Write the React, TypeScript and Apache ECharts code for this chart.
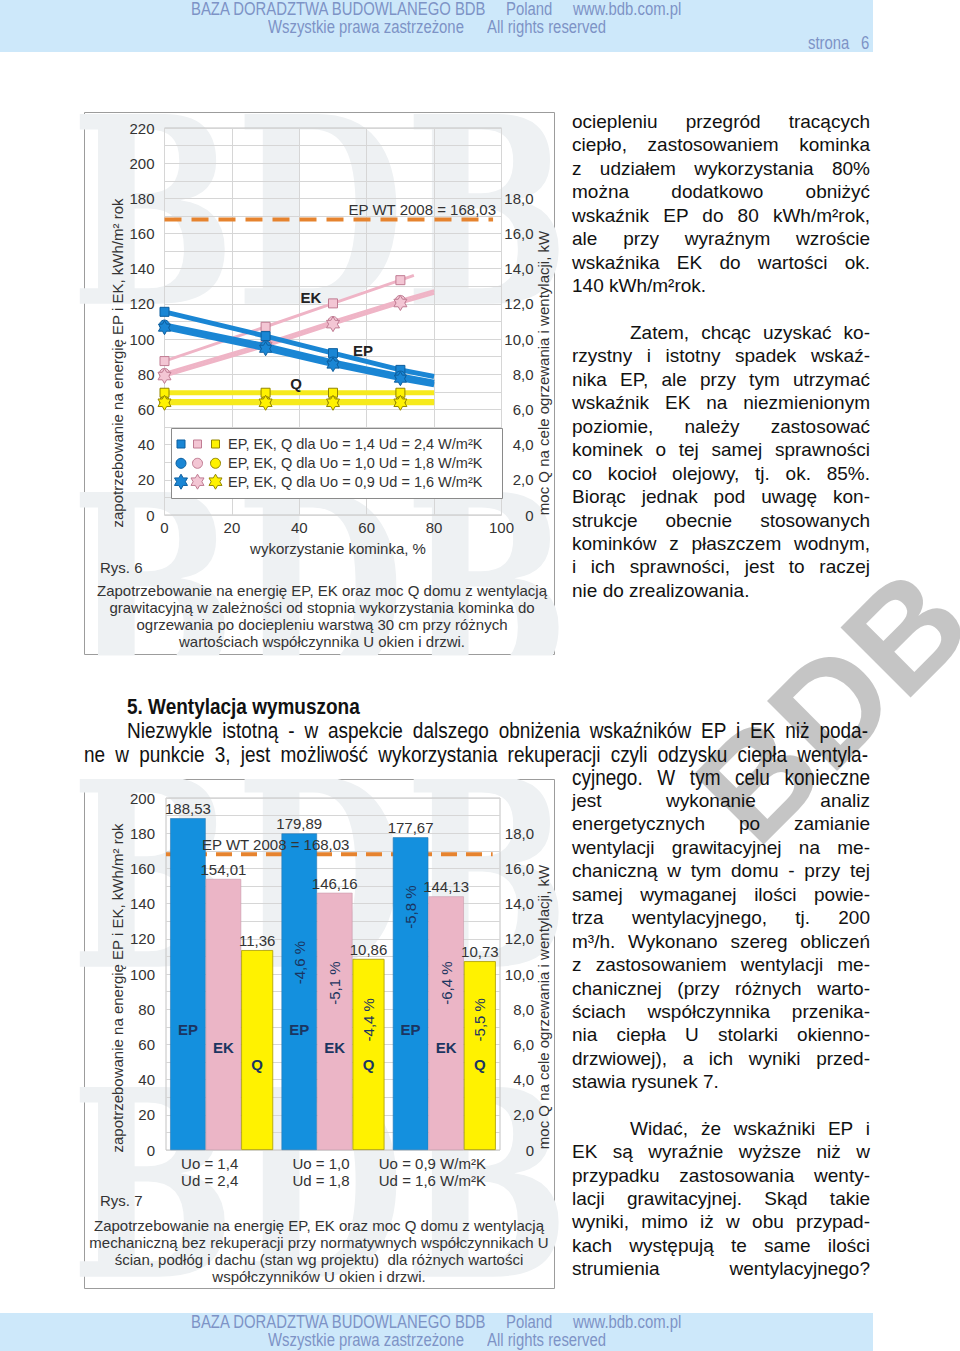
import React, { useEffect, useRef } from "react";
import * as echarts from "echarts";

const FONT = '"Liberation Sans", Arial, Helvetica, sans-serif';

/* ---------------- Rys. 6 data ---------------- */
const rys6XTicks = [0, 20, 40, 60, 80, 100];
const rys6LeftTicks = [0, 20, 40, 60, 80, 100, 120, 140, 160, 180, 200, 220];
const rightTicksKW = ["0", "2,0", "4,0", "6,0", "8,0", "10,0", "12,0", "14,0", "16,0", "18,0"];
const fireplaceUse = [0, 30, 50, 70];
const epU14 = [115.5, 101.7, 92.0, 82.5];
const epU10 = [108.0, 96.2, 87.0, 79.0];
const epU09 = [106.5, 94.5, 85.5, 77.5];
const ekU14 = [87.5, 107.0, 120.3, 133.5];
const ekU10 = [80.5, 97.5, 110.0, 122.0];
const ekU09 = [79.0, 96.0, 108.5, 120.5];
const qU14 = [6.95, 6.95, 6.95, 6.95];
const qU10 = [6.45, 6.45, 6.45, 6.45];
const qU09 = [6.38, 6.38, 6.38, 6.38];
const epTrendEndUse = [80, 80, 80];
const ekTrendEndUse = [74, 80, 80];
const qTrendEndUse = [80, 80, 80];
const epTrendEnd = [78.7, 75.5, 74.0];
const ekTrendEnd = [136.2, 127.5, 126.0];
const qTrendEnd = [6.95, 6.45, 6.38];
const epWT2008 = 168.03;
const rys6WTExtent = [0, 97.5];
const rys6Legend = [
  "EP, EK, Q dla Uo = 1,4 Ud = 2,4 W/m²K",
  "EP, EK, Q dla Uo = 1,0 Ud = 1,8 W/m²K",
  "EP, EK, Q dla Uo = 0,9 Ud = 1,6 W/m²K",
];
const rys6Caption = [
  "Zapotrzebowanie na energię EP, EK oraz moc Q domu z wentylacją",
  "grawitacyjną w zależności od stopnia wykorzystania kominka do",
  "ogrzewania po dociepleniu warstwą 30 cm przy różnych",
  "wartościach współczynnika U okien i drzwi.",
];

/* ---------------- Rys. 7 data ---------------- */
const rys7Categories = ["Uo = 1,4\nUd = 2,4", "Uo = 1,0\nUd = 1,8", "Uo = 0,9 W/m²K\nUd = 1,6 W/m²K"];
const rys7LeftTicks = [0, 20, 40, 60, 80, 100, 120, 140, 160, 180, 200];
const epMech = [188.53, 179.89, 177.67];
const ekMech = [154.01, 146.16, 144.13];
const qMech = [11.36, 10.86, 10.73];
const epMechChange = ["", "-4,6 %", "-5,8 %"];
const ekMechChange = ["", "-5,1 %", "-6,4 %"];
const qMechChange = ["", "-4,4 %", "-5,5 %"];
const rys7WTExtent = [0, 0.978];
const rys7Caption = [
  "Zapotrzebowanie na energię EP, EK oraz moc Q domu z wentylacją",
  "mechaniczną bez rekuperacji przy normatywnych współczynnikach U",
  "ścian, podłóg i dachu (stan wg projektu)  dla różnych wartości",
  "współczynników U okien i drzwi.",
];

/* ---------------- page text ---------------- */
const para1 = [
  "ociepleniu przegród tracących",
  "ciepło, zastosowaniem kominka",
  "z udziałem wykorzystania 80%",
  "można dodatkowo obniżyć",
  "wskaźnik EP do 80 kWh/m²rok,",
  "ale przy wyraźnym wzroście",
  "wskaźnika EK do wartości ok.",
  "140 kWh/m²rok.",
];
const para2 = [
  "Zatem, chcąc uzyskać ko-",
  "rzystny i istotny spadek wskaź-",
  "nika EP, ale przy tym utrzymać",
  "wskaźnik EK na niezmienionym",
  "poziomie, należy zastosować",
  "kominek o tej samej sprawności",
  "co kocioł olejowy, tj. ok. 85%.",
  "Biorąc jednak pod uwagę kon-",
  "strukcje obecnie stosowanych",
  "kominków z płaszczem wodnym,",
  "i ich sprawności, jest to raczej",
  "nie do zrealizowania.",
];
const para3 = [
  "jest wykonanie analiz",
  "energetycznych po zamianie",
  "wentylacji grawitacyjnej na me-",
  "chaniczną w tym domu - przy tej",
  "samej wymaganej ilości powie-",
  "trza wentylacyjnego, tj. 200",
  "m³/h. Wykonano szereg obliczeń",
  "z zastosowaniem wentylacji me-",
  "chanicznej (przy różnych warto-",
  "ściach współczynnika przenika-",
  "nia ciepła U stolarki okienno-",
  "drzwiowej), a ich wyniki przed-",
  "stawia rysunek 7.",
];
const para4 = [
  "Widać, że wskaźniki EP i",
  "EK są wyraźnie wyższe niż w",
  "przypadku zastosowania wenty-",
  "lacji grawitacyjnej. Skąd takie",
  "wyniki, mimo iż w obu przypad-",
  "kach występują te same ilości",
  "strumienia wentylacyjnego?",
];

/* ---------------- styles ---------------- */
const C = {
  ep: "#1a86d4",
  epDark: "#0d5e9e",
  ekLine: "#efb4c6",
  ekFill: "#f3c6d4",
  ekDark: "#c07c93",
  qLine: "#f6ea1c",
  qFill: "#fff200",
  qDark: "#948600",
  wt: "#e6832e",
  text: "#333333",
  grid: "#d6d6d6",
  border: "#c2c2c2",
  barEP: "#1490de",
  barEK: "#ebb5c6",
  barQ: "#fff200",
  navy: "#1b3561",
  wm: "#eef1f3",
};

function hexagramPoints(cx: number, cy: number, r: number): number[][] {
  const pts: number[][] = [];
  for (let k = 0; k < 12; k++) {
    const a = ((-90 + k * 30) * Math.PI) / 180;
    const rr = k % 2 === 0 ? r : r * 0.58;
    pts.push([cx + rr * Math.cos(a), cy + rr * Math.sin(a)]);
  }
  return pts;
}
const HEX_PATH =
  "path://" +
  hexagramPoints(10, 10, 10)
    .map((p, i) => (i ? "L" : "M") + p[0].toFixed(2) + " " + p[1].toFixed(2))
    .join(" ") +
  " Z";

const fmtKW = (v: number) => {
  const i = v / 2;
  return Number.isInteger(i) && i < rightTicksKW.length ? rightTicksKW[i] : "";
};
const fmtComma = (v: number) => v.toFixed(2).replace(".", ",");

function trend(
  vals: number[],
  endX: number,
  endV: number,
  yAxisIndex: number,
  lineColor: string,
  lineWidth: number,
  symbol: string,
  symbolSize: number,
  fill: string,
  stroke: string,
  z: number
) {
  return {
    type: "line",
    xAxisIndex: 0,
    yAxisIndex,
    z,
    silent: true,
    symbol,
    symbolSize,
    symbolKeepAspect: true,
    showAllSymbol: true,
    data: [...vals.map((v, i) => [fireplaceUse[i], v]), { value: [endX, endV], symbol: "none" }],
    lineStyle: { color: lineColor, width: lineWidth },
    itemStyle: { color: fill, borderColor: stroke, borderWidth: 1 },
  };
}

function txt(x: number, y: number, text: string, extra: any = {}, style: any = {}) {
  return {
    type: "text",
    x,
    y,
    z: 20,
    silent: true,
    ...extra,
    style: {
      text,
      font: `15px ${FONT}`,
      fill: C.text,
      align: "left",
      verticalAlign: "middle",
      ...style,
    },
  };
}

// inner labels of Rys. 7 (positions of text, in left-axis units, are layout)
const slotOffsets = [-33.75, 1.75, 35.5];
const nameY = [68.75, 58.5, 48.3];
const pctY = [
  [0, 106.5, 138],
  [0, 94.8, 94.8],
  [0, 74, 74],
];

function buildOption(): any {
  const labelStyle = { color: C.text, fontSize: 15, fontFamily: FONT };
  const split = { show: true, lineStyle: { color: C.grid, width: 1 } };

  const rys7Labels: any[] = [];
  const names = ["EP", "EK", "Q"];
  const changes = [epMechChange, ekMechChange, qMechChange];
  for (let cat = 0; cat < rys7Categories.length; cat++) {
    for (let s = 0; s < 3; s++) {
      rys7Labels.push({ cat, slot: s, y: nameY[s], text: names[s], rot: false });
      if (changes[s][cat]) rys7Labels.push({ cat, slot: s, y: pctY[s][cat], text: changes[s][cat], rot: true });
    }
  }

  const legendRows = [444, 463.3, 481.7];
  const legendX = [181, 197.5, 215.5];
  const legendColors = [
    [C.ep, C.epDark],
    [C.ekFill, C.ekDark],
    [C.qFill, C.qDark],
  ];
  const legendGraphics: any[] = [
    { type: "rect", z: 15, shape: { x: 171.5, y: 428.5, width: 331, height: 70 }, style: { fill: "#fff", stroke: "#8a8a8a", lineWidth: 1 } },
  ];
  legendRows.forEach((cy, r) => {
    legendX.forEach((cx, k) => {
      const [fill, stroke] = legendColors[k];
      const st = { fill, stroke, lineWidth: 1 };
      if (r === 0) legendGraphics.push({ type: "rect", z: 16, shape: { x: cx - 4, y: cy - 4, width: 8, height: 8 }, style: st });
      else if (r === 1) legendGraphics.push({ type: "circle", z: 16, shape: { cx, cy, r: 5 }, style: st });
      else legendGraphics.push({ type: "polygon", z: 16, shape: { points: hexagramPoints(cx, cy, 7.5) }, style: st });
    });
    legendGraphics.push(txt(228, cy, rys6Legend[r], {}, { font: `14.5px ${FONT}` }));
  });

  const wmText = (x: number, y: number) => ({
    type: "text",
    x,
    y,
    z: -1,
    silent: true,
    scaleX: 0.75,
    style: { text: "BDB", font: `bold 260px "DejaVu Serif", serif`, fill: C.wm, align: "center", verticalAlign: "middle" },
  });

  return {
    animation: false,
    backgroundColor: "transparent",
    textStyle: { fontFamily: FONT },
    grid: [
      { left: 164.5, top: 128, width: 337, height: 387, show: true, borderColor: C.border, borderWidth: 1, backgroundColor: "transparent" },
      { left: 166, top: 798, width: 334, height: 352, show: true, borderColor: C.border, borderWidth: 1, backgroundColor: "transparent" },
    ],
    xAxis: [
      {
        gridIndex: 0,
        type: "value",
        min: 0,
        max: 100,
        interval: 20,
        axisLine: { show: false },
        axisTick: { show: false },
        splitLine: split,
        axisLabel: { ...labelStyle, margin: 5, formatter: (v: number) => (rys6XTicks.includes(v) ? String(v) : "") },
      },
      {
        gridIndex: 1,
        type: "category",
        data: rys7Categories,
        axisLine: { show: false },
        axisTick: { show: false },
        splitLine: { show: false },
        axisLabel: { ...labelStyle, interval: 0, hideOverlap: false, lineHeight: 17, margin: 5, padding: [0, 24, 0, 0] },
      },
      { gridIndex: 1, type: "value", min: 0, max: 1, show: false },
    ],
    yAxis: [
      {
        gridIndex: 0,
        type: "value",
        position: "left",
        min: 0,
        max: 220,
        interval: 10,
        axisLine: { show: false },
        axisTick: { show: false },
        splitLine: split,
        axisLabel: { ...labelStyle, margin: 10, formatter: (v: number) => (rys6LeftTicks.includes(v) ? String(v) : "") },
      },
      {
        gridIndex: 0,
        type: "value",
        position: "right",
        min: 0,
        max: 22,
        interval: 1,
        axisLine: { show: false },
        axisTick: { show: false },
        splitLine: { show: false },
        axisLabel: { ...labelStyle, align: "right", margin: 32, formatter: fmtKW },
      },
      {
        gridIndex: 1,
        type: "value",
        position: "left",
        min: 0,
        max: 200,
        interval: 10,
        axisLine: { show: false },
        axisTick: { show: false },
        splitLine: split,
        axisLabel: { ...labelStyle, margin: 11, formatter: (v: number) => (rys7LeftTicks.includes(v) ? String(v) : "") },
      },
      {
        gridIndex: 1,
        type: "value",
        position: "right",
        min: 0,
        max: 20,
        interval: 1,
        axisLine: { show: false },
        axisTick: { show: false },
        splitLine: { show: false },
        axisLabel: { ...labelStyle, align: "right", margin: 34, formatter: fmtKW },
      },
    ],
    series: [
      // Rys. 6
      {
        type: "line",
        xAxisIndex: 0,
        yAxisIndex: 0,
        z: 2,
        silent: true,
        symbol: "none",
        data: rys6WTExtent.map((x) => [x, epWT2008]),
        lineStyle: { color: C.wt, width: 4, type: [17, 10] },
      },
      trend(ekU14, ekTrendEndUse[0], ekTrendEnd[0], 0, C.ekLine, 3, "rect", 9, C.ekFill, C.ekDark, 3),
      trend(ekU10, ekTrendEndUse[1], ekTrendEnd[1], 0, C.ekLine, 3, "circle", 10, C.ekFill, C.ekDark, 3),
      trend(ekU09, ekTrendEndUse[2], ekTrendEnd[2], 0, C.ekLine, 3, HEX_PATH, 15, C.ekFill, C.ekDark, 3),
      trend(epU14, epTrendEndUse[0], epTrendEnd[0], 0, C.ep, 5, "rect", 9, C.ep, C.epDark, 4),
      trend(epU10, epTrendEndUse[1], epTrendEnd[1], 0, C.ep, 5, "circle", 10, C.ep, C.epDark, 4),
      trend(epU09, epTrendEndUse[2], epTrendEnd[2], 0, C.ep, 5, HEX_PATH, 14, C.ep, C.epDark, 4),
      trend(qU14, qTrendEndUse[0], qTrendEnd[0], 1, C.qLine, 5, "rect", 9, C.qFill, C.qDark, 4),
      trend(qU10, qTrendEndUse[1], qTrendEnd[1], 1, C.qLine, 5, "circle", 10, C.qFill, C.qDark, 4),
      trend(qU09, qTrendEndUse[2], qTrendEnd[2], 1, C.qLine, 5, HEX_PATH, 15, C.qFill, C.qDark, 4),
      // Rys. 7
      {
        type: "line",
        xAxisIndex: 2,
        yAxisIndex: 2,
        z: 1,
        silent: true,
        symbol: "none",
        data: rys7WTExtent.map((x) => [x, epWT2008]),
        lineStyle: { color: C.wt, width: 4, type: [16, 9] },
      },
      {
        type: "bar",
        xAxisIndex: 1,
        yAxisIndex: 2,
        z: 2,
        silent: true,
        barWidth: 35.5,
        barGap: "0%",
        data: epMech,
        itemStyle: { color: C.barEP, borderColor: "#2a78b4", borderWidth: 0.6 },
        label: { show: true, position: "top", distance: 2, formatter: (p: any) => fmtComma(p.value), ...labelStyle },
      },
      {
        type: "bar",
        xAxisIndex: 1,
        yAxisIndex: 2,
        z: 2,
        silent: true,
        barWidth: 35.5,
        barGap: "0%",
        data: ekMech,
        itemStyle: { color: C.barEK, borderColor: "#c99aab", borderWidth: 0.6 },
        label: { show: true, position: "top", distance: 2, formatter: (p: any) => fmtComma(p.value), ...labelStyle },
      },
      {
        type: "bar",
        xAxisIndex: 1,
        yAxisIndex: 3,
        z: 2,
        silent: true,
        barWidth: 32,
        barGap: "0%",
        data: qMech,
        itemStyle: { color: C.barQ, borderColor: "#a99a00", borderWidth: 0.8 },
        label: { show: true, position: "top", distance: 2, formatter: (p: any) => fmtComma(p.value), ...labelStyle },
      },
      {
        type: "custom",
        xAxisIndex: 1,
        yAxisIndex: 2,
        z: 6,
        silent: true,
        data: rys7Labels.map((l) => [l.cat, l.y]),
        renderItem: (params: any, api: any) => {
          const l = rys7Labels[params.dataIndex];
          const pt = api.coord([l.cat, l.y]);
          return {
            type: "text",
            x: pt[0] + slotOffsets[l.slot],
            y: pt[1],
            rotation: l.rot ? Math.PI / 2 : 0,
            style: {
              text: l.text,
              fill: C.navy,
              font: `${l.rot ? "" : "bold "}15px ${FONT}`,
              align: "center",
              verticalAlign: "middle",
            },
          };
        },
      },
    ],
    graphic: [
      // frames
      { type: "rect", z: -3, silent: true, shape: { x: 84.5, y: 112.5, width: 470, height: 542 }, style: { fill: "#fff", stroke: "#9c9c9c", lineWidth: 1 } },
      { type: "rect", z: -3, silent: true, shape: { x: 84.5, y: 779.5, width: 470, height: 509 }, style: { fill: "#fff", stroke: "#9c9c9c", lineWidth: 1 } },
      wmText(320, 212),
      wmText(320, 590),
      wmText(320, 875),
      wmText(320, 1185),
      { type: "rect", z: -1, silent: true, shape: { x: 70, y: 655.5, width: 495, height: 123.5 }, style: { fill: "#fff" } },
      { type: "rect", z: -1, silent: true, shape: { x: 70, y: 1289, width: 495, height: 30 }, style: { fill: "#fff" } },
      { type: "rect", z: -1, silent: true, shape: { x: 70, y: 100, width: 495, height: 12 }, style: { fill: "#fff" } },
      { type: "rect", z: -1, silent: true, shape: { x: 70, y: 770, width: 495, height: 9 }, style: { fill: "#fff" } },
      // big page watermark
      {
        type: "text",
        x: 832,
        y: 706,
        z: -1,
        rotation: Math.PI / 4,
        silent: true,
        style: { text: "BDB", font: `bold 144px ${FONT}`, fill: "rgba(150,150,150,0.55)", align: "center", verticalAlign: "middle" },
      },
      // Rys. 6 texts
      txt(117, 363, "zapotrzebowanie na energię EP i EK, kWh/m² rok", { rotation: Math.PI / 2 }, { align: "center" }),
      txt(543, 373, "moc Q na cele ogrzewania i wentylacji, kW", { rotation: Math.PI / 2 }, { align: "center" }),
      txt(338, 548, "wykorzystanie kominka, %", {}, { align: "center" }),
      txt(496, 209, "EP WT 2008 = 168,03", {}, { align: "right" }),
      txt(311, 297, "EK", {}, { align: "center", font: `bold 15px ${FONT}`, fill: "#222" }),
      txt(363, 350, "EP", {}, { align: "center", font: `bold 15px ${FONT}`, fill: "#222" }),
      txt(296, 383, "Q", {}, { align: "center", font: `bold 15px ${FONT}`, fill: "#222" }),
      txt(100, 567, "Rys. 6"),
      ...rys6Caption.map((t, i) => txt(322, 590 + i * 17, t, {}, { align: "center" })),
      ...legendGraphics,
      // Rys. 7 texts
      txt(117, 988, "zapotrzebowanie na energię EP i EK, kWh/m² rok", { rotation: Math.PI / 2 }, { align: "center" }),
      txt(543, 1007, "moc Q na cele ogrzewania i wentylacji, kW", { rotation: Math.PI / 2 }, { align: "center" }),
      txt(202, 844, "EP WT 2008 = 168,03"),
      txt(100, 1200, "Rys. 7"),
      ...rys7Caption.map((t, i) => txt(319, 1225 + i * 17, t, {}, { align: "center" })),
    ],
  };
}

/* ---------------- HTML text helpers ---------------- */
function Body({ x, y, w, text, justify }: { x: number; y: number; w: number; text: string; justify: boolean }) {
  return (
    <div
      style={{
        position: "absolute",
        left: x,
        top: y - 12,
        width: w,
        fontSize: 19,
        lineHeight: "24px",
        whiteSpace: "nowrap",
        textAlign: justify ? "justify" : "left",
        textAlignLast: justify ? "justify" : "left",
        color: "#111",
      }}
    >
      {text}
    </div>
  );
}

function Narrow({
  x,
  y,
  size,
  text,
  w,
  bold,
  color,
  scale = 0.84,
}: {
  x: number;
  y: number;
  size: number;
  text: string;
  w?: number;
  bold?: boolean;
  color?: string;
  scale?: number;
}) {
  const justify = w !== undefined;
  return (
    <div
      style={{
        position: "absolute",
        left: x,
        top: y - size * 0.6,
        width: w !== undefined ? w / scale : undefined,
        fontSize: size,
        lineHeight: `${size * 1.2}px`,
        fontWeight: bold ? "bold" : "normal",
        whiteSpace: "nowrap",
        color: color || "#111",
        transform: `scaleX(${scale})`,
        transformOrigin: "0 0",
        textAlign: justify ? "justify" : "left",
        textAlignLast: justify ? "justify" : "left",
      }}
    >
      {text}
    </div>
  );
}

const HDR = "#7d93c6";
const HS = 0.85;

function Band({ top, height, withPage }: { top: number; height: number; withPage: boolean }) {
  const y1 = top + 9;
  const y2 = top + 27;
  return (
    <>
      <div style={{ position: "absolute", left: 0, top, width: 873, height, background: "#cde8fa" }} />
      <Narrow x={191} y={y1} size={17.5} scale={HS} text="BAZA DORADZTWA BUDOWLANEGO BDB" color={HDR} />
      <Narrow x={506} y={y1} size={17.5} scale={HS} text="Poland" color={HDR} />
      <Narrow x={573} y={y1} size={17.5} scale={HS} text="www.bdb.com.pl" color={HDR} />
      <Narrow x={268} y={y2} size={17.5} scale={HS} text="Wszystkie prawa zastrzeżone" color={HDR} />
      <Narrow x={487} y={y2} size={17.5} scale={HS} text="All rights reserved" color={HDR} />
      {withPage ? (
        <>
          <Narrow x={808} y={top + 43} size={17.5} scale={HS} text="strona" color={HDR} />
          <Narrow x={861} y={top + 43} size={17.5} scale={HS} text="6" color={HDR} />
        </>
      ) : null}
    </>
  );
}

const STEP = 23.44;

export default function App() {
  const ref = useRef<HTMLDivElement>(null);
  useEffect(() => {
    document.body.style.margin = "0";
    document.body.style.overflow = "hidden";
    const chart = echarts.init(ref.current!, null, { renderer: "svg" });
    chart.setOption(buildOption());
    return () => chart.dispose();
  }, []);

  return (
    <div
      style={{
        position: "absolute",
        left: 0,
        top: 0,
        width: 960,
        height: 1351,
        overflow: "hidden",
        background: "#fff",
        fontFamily: FONT,
      }}
    >
      <div ref={ref} style={{ position: "absolute", left: 0, top: 0, width: 960, height: 1351 }} />

      <Band top={0} height={52} withPage={true} />
      <Band top={1313} height={38} withPage={false} />

      {para1.map((t, i) => (
        <Body key={"p1" + i} x={572} y={122 + i * STEP} w={298} text={t} justify={i < para1.length - 1} />
      ))}
      {para2.map((t, i) => (
        <Body
          key={"p2" + i}
          x={i === 0 ? 630 : 572}
          y={333 + i * STEP}
          w={i === 0 ? 240 : 298}
          text={t}
          justify={i < para2.length - 1}
        />
      ))}

      <Narrow x={127} y={707} size={22.6} bold text="5. Wentylacja wymuszona" />
      <Narrow
        x={127}
        y={731}
        size={22.6}
        w={741}
        text="Niezwykle istotną - w aspekcie dalszego obniżenia wskaźników EP i EK niż poda-"
      />
      <Narrow
        x={84}
        y={755}
        size={22.6}
        w={784}
        text="ne w punkcie 3, jest możliwość wykorzystania rekuperacji czyli odzysku ciepła wentyla-"
      />
      <Narrow x={572} y={778} size={22.6} w={298} text="cyjnego. W tym celu konieczne" />

      {para3.map((t, i) => (
        <Body key={"p3" + i} x={572} y={801 + i * STEP} w={298} text={t} justify={i < para3.length - 1} />
      ))}
      {para4.map((t, i) => (
        <Body
          key={"p4" + i}
          x={i === 0 ? 630 : 572}
          y={1129 + i * 23.35}
          w={i === 0 ? 240 : 298}
          text={t}
          justify={true}
        />
      ))}
    </div>
  );
}
